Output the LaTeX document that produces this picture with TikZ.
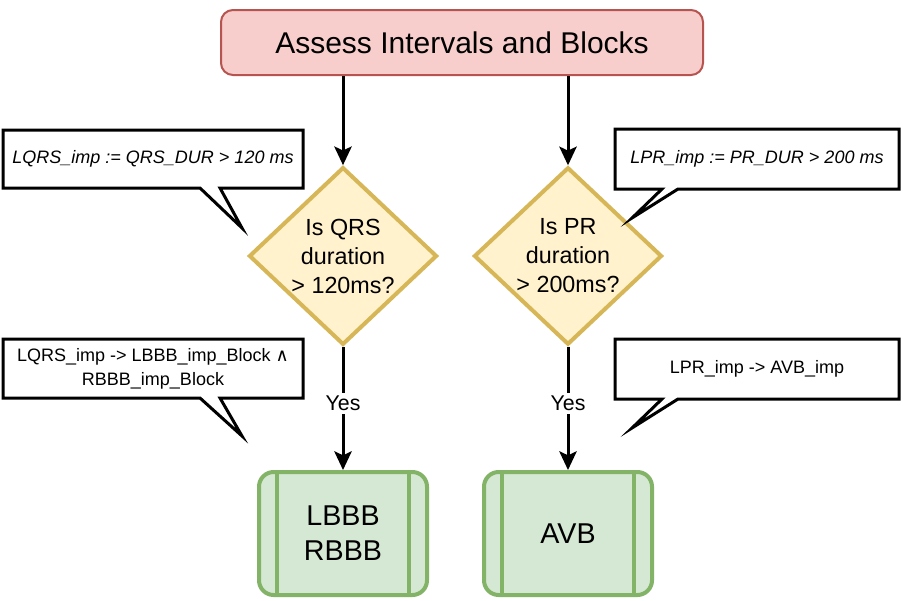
\documentclass[tikz,border=0pt]{standalone}
\usepackage{fontspec}
\setmainfont{Liberation Sans}
\newfontfamily\dvfont{DejaVu Sans}
\usetikzlibrary{shapes.geometric,arrows.meta,calc}
\definecolor{titleFill}{HTML}{F8CECC}
\definecolor{titleStroke}{HTML}{B85450}
\definecolor{decFill}{HTML}{FFF2CC}
\definecolor{decStroke}{HTML}{D6B656}
\definecolor{procFill}{HTML}{D5E8D4}
\definecolor{procStroke}{HTML}{82B366}
\tikzset{
  titlebox/.style={draw=titleStroke, fill=titleFill, line width=1.5pt, rounded corners=9pt,
    minimum width=361.5pt, minimum height=48.75pt, font=\fontsize{22.5}{26}\selectfont},
  decision/.style={diamond, draw=decStroke, fill=decFill, line width=3pt,
    minimum width=141pt, minimum height=132pt, inner sep=0pt, align=center,
    font=\fontsize{17.5}{21.75}\selectfont},
  process/.style={draw=procStroke, fill=procFill, line width=3pt, rounded corners=11pt,
    minimum width=126pt, minimum height=92.25pt, align=center,
    font=\fontsize{21.5}{26.25}\selectfont},
  procline/.style={draw=procStroke, line width=3pt},
  flow/.style={line width=2.25pt, -{Stealth[length=14pt,width=13pt,inset=3pt]}},
  yeslabel/.style={fill=white, inner sep=2pt, font=\fontsize{16}{19}\selectfont},
  calloutbox/.style={inner sep=0pt, outer sep=0pt, align=center, font=\fontsize{13.5}{18}\selectfont},
  calloutline/.style={draw=black, line width=2.25pt, line join=miter},
}
\begin{document}
\begin{tikzpicture}[x=0.75pt,y=-0.75pt]
\useasboundingbox[fill=white] (0,0) rectangle (903,600);

% main nodes
\node[titlebox] (t) at (462,42.5) {Assess Intervals and Blocks};
\node[decision] (d1) at (343,256) {Is QRS\\duration\\> 120ms?};
\node[decision] (d2) at (568,256) {Is PR\\duration\\> 200ms?};
\node[process] (b1) at (343,533.5) {LBBB\\RBBB};
\node[process] (b2) at (568,533.5) {AVB};
\draw[procline] ([xshift=15pt]b1.north west) -- ([xshift=15pt]b1.south west);
\draw[procline] ([xshift=-15pt]b1.north east) -- ([xshift=-15pt]b1.south east);
\draw[procline] ([xshift=15pt]b2.north west) -- ([xshift=15pt]b2.south west);
\draw[procline] ([xshift=-15pt]b2.north east) -- ([xshift=-15pt]b2.south east);

% connectors
\draw[flow] (t.south -| d1.north) -- (d1.north);
\draw[flow] (t.south -| d2.north) -- (d2.north);
\draw[flow] (d1.south) -- node[yeslabel, pos=0.46] {Yes} (b1.north);
\draw[flow] (d2.south) -- node[yeslabel, pos=0.46] {Yes} (b2.north);

% callouts
\node[calloutbox, minimum width=225pt, minimum height=43.5pt] (c1) at (153,159)
  {\itshape LQRS\_imp := QRS\_DUR > 120 ms};
\node[calloutbox, minimum width=213pt, minimum height=45pt] (c2) at (757,159)
  {\itshape LPR\_imp := PR\_DUR > 200 ms};
\node[calloutbox, minimum width=225pt, minimum height=44.25pt] (c3) at (153,368.5)
  {LQRS\_imp -> LBBB\_imp\_Block {\dvfont ∧}\\RBBB\_imp\_Block};
\node[calloutbox, minimum width=213pt, minimum height=45pt] (c4) at (757,369)
  {LPR\_imp -> AVB\_imp};
\coordinate (p1) at (242,228);
\coordinate (p2) at (632,218);
\coordinate (p3) at (242,436);
\coordinate (p4) at (632,428);

\draw[calloutline] (c1.north west) -- (c1.north east) -- (c1.south east)
  -- ($(c1.south west)+(217,0)$) -- (p1) -- ($(c1.south west)+(197,0)$)
  -- (c1.south west) -- cycle;
\draw[calloutline] (c3.north west) -- (c3.north east) -- (c3.south east)
  -- ($(c3.south west)+(217,0)$) -- (p3) -- ($(c3.south west)+(197,0)$)
  -- (c3.south west) -- cycle;
\draw[calloutline] (c2.north west) -- (c2.north east) -- (c2.south east)
  -- ($(c2.south west)+(63,0)$) -- (p2) -- ($(c2.south west)+(47,0)$)
  -- (c2.south west) -- cycle;
\draw[calloutline] (c4.north west) -- (c4.north east) -- (c4.south east)
  -- ($(c4.south west)+(63,0)$) -- (p4) -- ($(c4.south west)+(47,0)$)
  -- (c4.south west) -- cycle;
\end{tikzpicture}
\end{document}
